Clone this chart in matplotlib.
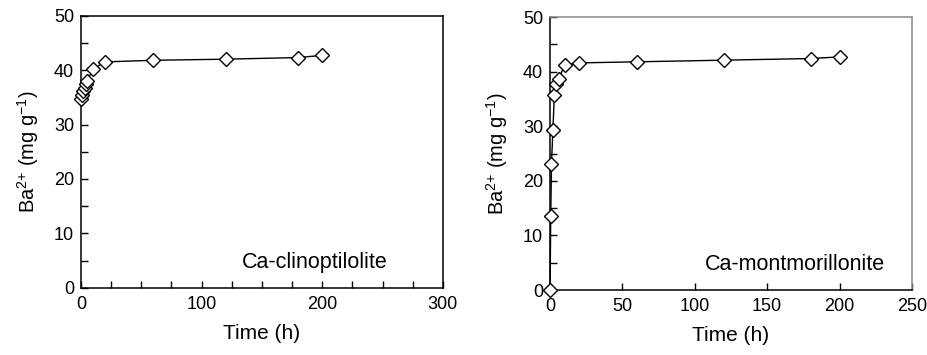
import numpy as np
import matplotlib.pyplot as plt
from matplotlib.ticker import MultipleLocator

plt.rcParams['font.family'] = ['Liberation Sans', 'DejaVu Sans']

## Data

clino_time = [0, 1, 2, 3, 4, 5, 10, 20, 60, 120, 180, 200]
clino_ba = [34.6, 35.5, 36.2, 36.8, 37.4, 38.0, 40.2, 41.5, 41.8, 42.0, 42.3, 42.7]

mont_time = [0, 0.5, 1, 2, 3, 4, 6, 10, 20, 60, 120, 180, 200]
mont_ba = [0, 13.5, 23.1, 29.4, 35.8, 37.8, 38.6, 41.2, 41.6, 41.8, 42.1, 42.4, 42.7]

panels = [
    (clino_time, clino_ba, 'Ca-clinoptilolite', 300, 100, 25, [0.0873, 0.189, 0.390, 0.767], 0.848),
    (mont_time, mont_ba, 'Ca-montmorillonite', 250, 50, None, [0.5927, 0.183, 0.390, 0.769], 0.926),
]

fig = plt.figure(figsize=(9.28, 3.55), dpi=100)

for i, (t, y, name, xmax, xmaj, xmin, pos, tx) in enumerate(panels):
    ax = fig.add_axes(pos)
    ax.plot(t, y, color='black', lw=1.0, marker='D', ms=7.5,
            mfc='white', mec='black', mew=1.0, clip_on=False, zorder=3)
    ax.set_xlim(0, xmax)
    ax.set_ylim(0, 50)
    ax.xaxis.set_major_locator(MultipleLocator(xmaj))
    if xmin:
        ax.xaxis.set_minor_locator(MultipleLocator(xmin))
    ax.yaxis.set_major_locator(MultipleLocator(10))
    ax.yaxis.set_minor_locator(MultipleLocator(5))
    ax.tick_params(which='both', direction='in', labelsize=13, width=1.0,
                   top=False, right=False)
    ax.tick_params(axis='x', pad=6)
    ax.tick_params(axis='y', pad=5)
    ax.tick_params(which='both', length=5)
    for s in ax.spines.values():
        s.set_linewidth(1.1)
    if i == 1:
        ax.spines['top'].set_color('#8a8a8a')
        ax.spines['right'].set_color('#8a8a8a')
    ax.set_xlabel('Time (h)', fontsize=15, labelpad=8)
    ax.set_ylabel(r'Ba$^{\mathregular{2{+}}}$ (mg g$^{\mathregular{-1}}$)', fontsize=14.5, labelpad=9)
    ax.text(tx, 0.095, name, transform=ax.transAxes, ha='right', va='center', fontsize=15.5)

fig.savefig('out.png', dpi=100)
